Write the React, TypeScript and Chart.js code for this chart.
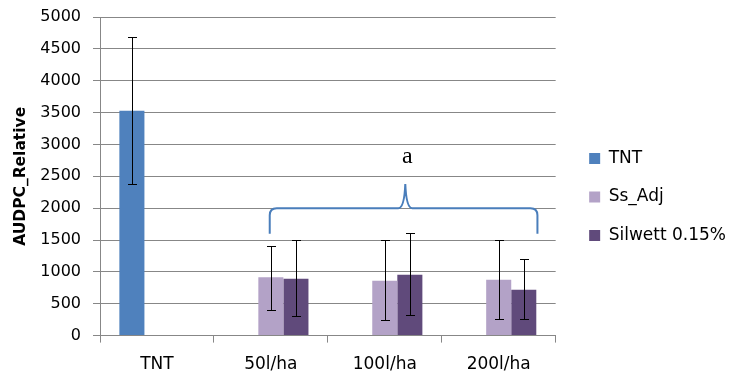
import React, { useEffect, useRef } from "react";
import { Chart, registerables } from "chart.js";

Chart.register(...registerables);

const categories = ["TNT", "50l/ha", "100l/ha", "200l/ha"];
const seriesNames = ["TNT", "Ss_Adj", "Silwett 0.15%"];
const tntValues = [3530, null, null, null];
const ssAdjValues = [null, 914, 862, 878];
const silwettValues = [null, 893, 956, 721];
const tntErrLow = [2380, null, null, null];
const tntErrHigh = [4690, null, null, null];
const ssAdjErrLow = [null, 403, 246, 262];
const ssAdjErrHigh = [null, 1406, 1500, 1500];
const silwettErrLow = [null, 308, 324, 262];
const silwettErrHigh = [null, 1500, 1603, 1202];
const yTicks = [0, 500, 1000, 1500, 2000, 2500, 3000, 3500, 4000, 4500, 5000];

// brace annotation ("a") spanning the treated groups, in category-index / value units
const braceIndex = [0.99, 2.18, 3.34]; // start, tip, end
const braceValues = [1600, 2000, 2380]; // ends, level, tip
const braceLabel = "a";
const braceLabelValue = 2800;

const colors = ["#4F81BD", "#B3A2C7", "#604A7B"];
const gridColor = "#878787";

const errorBarPlugin = {
  id: "errorBars",
  afterDatasetsDraw(chart: any) {
    const ctx = chart.ctx;
    const y = chart.scales.y;
    const lows = [tntErrLow, ssAdjErrLow, silwettErrLow];
    const highs = [tntErrHigh, ssAdjErrHigh, silwettErrHigh];
    ctx.save();
    ctx.strokeStyle = "#000";
    ctx.lineWidth = 1;
    chart.data.datasets.forEach((ds: any, di: number) => {
      const meta = chart.getDatasetMeta(di);
      meta.data.forEach((el: any, i: number) => {
        const lo = lows[di][i];
        const hi = highs[di][i];
        if (lo == null || hi == null) return;
        const x = Math.round(el.x) + 0.5;
        const y1 = Math.round(y.getPixelForValue(lo)) + 0.5;
        const y2 = Math.round(y.getPixelForValue(hi)) + 0.5;
        ctx.beginPath();
        ctx.moveTo(x, y1);
        ctx.lineTo(x, y2);
        ctx.moveTo(x - 4.5, y1);
        ctx.lineTo(x + 4.5, y1);
        ctx.moveTo(x - 4.5, y2);
        ctx.lineTo(x + 4.5, y2);
        ctx.stroke();
      });
    });
    ctx.restore();
  },
};

const bracePlugin = {
  id: "brace",
  afterDraw(chart: any) {
    const ctx = chart.ctx;
    const xs = chart.scales.x;
    const ys = chart.scales.y;
    const xL = xs.getPixelForValue(braceIndex[0]);
    const xT = xs.getPixelForValue(braceIndex[1]);
    const xR = xs.getPixelForValue(braceIndex[2]);
    const yE = ys.getPixelForValue(braceValues[0]);
    const yL = ys.getPixelForValue(braceValues[1]);
    const yT = ys.getPixelForValue(braceValues[2]);
    const r = 7;
    ctx.save();
    ctx.strokeStyle = "#4A7EBB";
    ctx.lineWidth = 2;
    ctx.beginPath();
    ctx.moveTo(xL, yE);
    ctx.lineTo(xL, yL + r);
    ctx.quadraticCurveTo(xL, yL, xL + r, yL);
    ctx.lineTo(xT - r, yL);
    ctx.quadraticCurveTo(xT - 1, yL, xT, yT);
    ctx.quadraticCurveTo(xT + 1, yL, xT + r, yL);
    ctx.lineTo(xR - r, yL);
    ctx.quadraticCurveTo(xR, yL, xR, yL + r);
    ctx.lineTo(xR, yE);
    ctx.stroke();
    ctx.fillStyle = "#000";
    ctx.font = "24px 'Liberation Serif'";
    ctx.textAlign = "center";
    ctx.textBaseline = "middle";
    ctx.fillText(braceLabel, xT + 2, ys.getPixelForValue(braceLabelValue));
    ctx.restore();
  },
};

// nudge the legend block to the right / down inside its reserved box
const legendShiftPlugin = {
  id: "legendShift",
  afterLayout(chart: any) {
    const lg = chart.legend;
    if (!lg) return;
    lg.left += 12;
    lg.right += 12;
    lg.top += 3;
    lg.bottom += 3;
  },
};

export default function App() {
  const ref = useRef<HTMLCanvasElement | null>(null);
  useEffect(() => {
    if (!ref.current) return;
    const chart = new Chart(ref.current, {
      type: "bar",
      data: {
        labels: categories,
        datasets: [
          { label: seriesNames[0], data: tntValues as any, backgroundColor: colors[0] },
          { label: seriesNames[1], data: ssAdjValues as any, backgroundColor: colors[1] },
          { label: seriesNames[2], data: silwettValues as any, backgroundColor: colors[2] },
        ],
      },
      options: {
        responsive: false,
        animation: false,
        datasets: { bar: { categoryPercentage: 0.66, barPercentage: 1 } },
        layout: { padding: { top: 1, left: 0, right: 7, bottom: 0 } },
        plugins: {
          tooltip: { enabled: false },
          legend: {
            position: "right",
            labels: {
              boxWidth: 11,
              boxHeight: 11,
              padding: 21.5,
              color: "#000",
              font: { family: "'DejaVu Sans'", size: 17 },
            },
          },
        },
        scales: {
          x: {
            grid: { drawOnChartArea: false, drawTicks: true, tickLength: 7, color: gridColor, offset: true },
            border: { color: gridColor },
            ticks: { color: "#000", font: { family: "'DejaVu Sans'", size: 17 }, padding: 12 },
          },
          y: {
            min: 0,
            max: 5000,
            afterBuildTicks: (axis: any) => {
              axis.ticks = yTicks.map((v) => ({ value: v }));
            },
            afterFit: (axis: any) => {
              axis.width = 100;
              axis.paddingTop = 17;
            },
            grid: { color: gridColor, tickLength: 7 },
            border: { color: gridColor },
            ticks: {
              color: "#000",
              font: { family: "'DejaVu Sans'", size: 16 },
              padding: 12,
              callback: (v: any) => String(v),
            },
            title: {
              display: true,
              text: "AUDPC_Relative",
              color: "#000",
              font: { family: "'DejaVu Sans'", size: 15.5, weight: "bold" },
              padding: { top: 12, bottom: 2 },
            },
          },
        },
      },
      plugins: [errorBarPlugin, bracePlugin, legendShiftPlugin],
    });
    return () => chart.destroy();
  }, []);
  return (
    <div style={{ position: "absolute", left: 0, top: 0, width: 731, height: 387, background: "#fff" }}>
      <canvas ref={ref} width={731} height={387} />
    </div>
  );
}
